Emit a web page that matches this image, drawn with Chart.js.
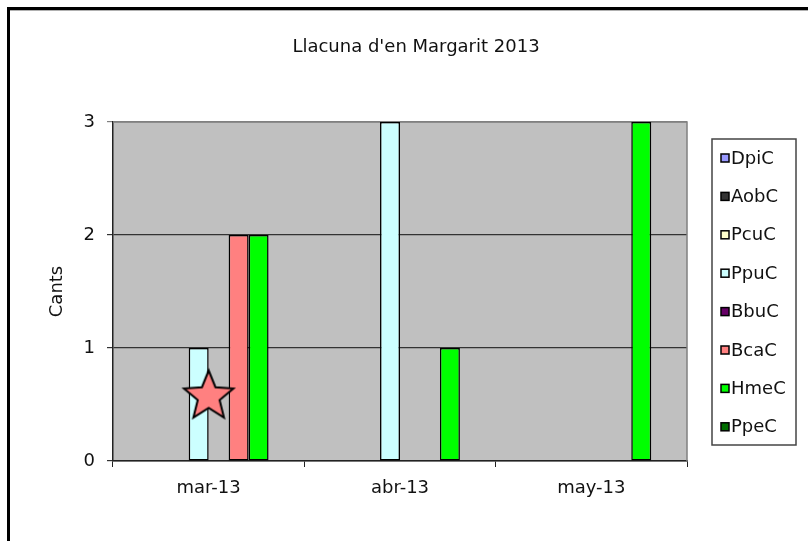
<!DOCTYPE html>
<html lang="ca">
<head>
  <meta charset="UTF-8">
  <title>Llacuna d'en Margarit 2013</title>
  <script src="https://cdn.jsdelivr.net/npm/chart.js"></script>
  <style>
    * { box-sizing: border-box; }
    body { margin: 0; padding: 0; background: #fff; }
    canvas { display: block; }
  </style>
</head>
<body>
<canvas id="chart" width="808" height="541"></canvas>

<script>
  // data
  const chartTitle = "Llacuna d'en Margarit 2013";
  const categories = ['mar-13', 'abr-13', 'may-13'];
  const seriesNames = ['DpiC', 'AobC', 'PcuC', 'PpuC', 'BbuC', 'BcaC', 'HmeC', 'PpeC'];
  const seriesColors = ['#9999FF', '#333333', '#FFFFCC', '#CCFFFF', '#660066', '#FF8080', '#00FF00', '#006E00'];
  const DpiC = [null, null, null];
  const AobC = [null, null, null];
  const PcuC = [null, null, null];
  const PpuC = [1, 3, null];
  const BbuC = [null, null, null];
  const BcaC = [2, null, null];
  const HmeC = [2, 1, 3];
  const PpeC = [null, null, null];
  const starMark = [0.58, null, null];
  const yTicks = [0, 1, 2, 3];

  const seriesValues = [DpiC, AobC, PcuC, PpuC, BbuC, BcaC, HmeC, PpeC];
  const FONT = "'DejaVu Sans', sans-serif";
  Chart.defaults.font.family = FONT;
  Chart.defaults.color = '#111';

  // star marker image
  function makeStar() {
    const c = document.createElement('canvas');
    c.width = 60; c.height = 60;
    const g = c.getContext('2d');
    const R = 26, r = 11.5;
    g.beginPath();
    for (let i = 0; i < 10; i++) {
      const rad = i % 2 === 0 ? R : r;
      const a = -Math.PI / 2 + i * Math.PI / 5;
      const px = 30 + rad * Math.cos(a), py = 31 + rad * Math.sin(a);
      if (i === 0) g.moveTo(px, py); else g.lineTo(px, py);
    }
    g.closePath();
    g.fillStyle = '#FF8080';
    g.fill();
    g.lineWidth = 2;
    g.strokeStyle = '#000';
    g.stroke();
    return c;
  }

  const datasets = seriesNames.map((name, i) => ({
    type: 'bar',
    label: name,
    data: seriesValues[i],
    backgroundColor: seriesColors[i],
    borderColor: '#000',
    borderWidth: 1.5,
    borderSkipped: false,
    categoryPercentage: 0.835,
    barPercentage: 1,
    order: 2
  }));

  datasets.push({
    type: 'line',
    label: 'star',
    data: starMark,
    showLine: false,
    pointStyle: makeStar(),
    pointRadius: 26,
    order: 0
  });

  const framePlugin = {
    id: 'frame',
    beforeDraw(chart) {
      const { ctx, chartArea: a } = chart;
      ctx.save();
      ctx.fillStyle = '#fff';
      ctx.fillRect(0, 0, chart.width, chart.height);
      // outer frame (left and top edges)
      ctx.fillStyle = '#000';
      ctx.fillRect(7, 7, 3, chart.height);
      ctx.fillRect(7, 7, chart.width, 3);
      ctx.fillStyle = '#b0b0b0';
      ctx.fillRect(10, 10, chart.width, 1);
      // plot background
      ctx.fillStyle = '#C0C0C0';
      ctx.fillRect(a.left, a.top, a.right - a.left, a.bottom - a.top);
      // title
      ctx.fillStyle = '#111';
      ctx.font = '18px ' + FONT;
      ctx.textAlign = 'center';
      ctx.textBaseline = 'middle';
      ctx.fillText(chartTitle, 416, 47);
      ctx.restore();
    },
    beforeDatasetsDraw(chart) {
      const { ctx, chartArea: a } = chart;
      ctx.save();
      ctx.strokeStyle = '#808080';
      ctx.lineWidth = 1.5;
      ctx.beginPath();
      ctx.moveTo(a.left, a.top);
      ctx.lineTo(a.right, a.top);
      ctx.lineTo(a.right, a.bottom);
      ctx.stroke();
      ctx.restore();
    }
  };

  const legendPlugin = {
    id: 'boxLegend',
    afterDraw(chart) {
      const { ctx } = chart;
      ctx.save();
      ctx.strokeStyle = '#444';
      ctx.lineWidth = 1.5;
      ctx.strokeRect(712, 139, 84, 306);
      ctx.font = '18px ' + FONT;
      ctx.textBaseline = 'middle';
      ctx.textAlign = 'left';
      seriesNames.forEach((name, i) => {
        const y = 158 + i * 38.4;
        ctx.fillStyle = seriesColors[i];
        ctx.fillRect(721, y - 4, 8, 8);
        ctx.strokeStyle = '#000';
        ctx.lineWidth = 1.5;
        ctx.strokeRect(721, y - 4, 8, 8);
        ctx.fillStyle = '#111';
        ctx.fillText(name, 731, y + 1);
      });
      ctx.restore();
    }
  };

  new Chart(document.getElementById('chart').getContext('2d'), {
    type: 'bar',
    data: { labels: categories, datasets: datasets },
    options: {
      responsive: false,
      animation: false,
      layout: { padding: { left: 0, right: 121, top: 122, bottom: 0 } },
      plugins: {
        legend: { display: false },
        tooltip: { enabled: false },
        title: { display: false }
      },
      scales: {
        x: {
          offset: true,
          grid: {
            offset: true,
            drawOnChartArea: false,
            drawTicks: true,
            tickLength: 6,
            color: '#222'
          },
          border: { display: true, color: '#222', width: 1.5 },
          ticks: { font: { size: 18 }, padding: 11, color: '#111' },
          afterFit(scale) { scale.height = 80; }
        },
        y: {
          min: 0,
          max: 3,
          afterBuildTicks(scale) { scale.ticks = yTicks.map(v => ({ value: v })); },
          grid: {
            color: ctx => ctx.tick && ctx.tick.value === 3 ? '#808080' : '#333',
            lineWidth: 1.2,
            tickLength: 6,
            drawTicks: true
          },
          border: { display: true, color: '#222', width: 1.5 },
          ticks: { font: { size: 18 }, padding: 12, color: '#111' },
          title: {
            display: true,
            text: 'Cants',
            color: '#111',
            font: { size: 18 },
            padding: { top: 47, bottom: 0 }
          },
          afterFit(scale) { scale.width = 113; }
        }
      }
    },
    plugins: [framePlugin, legendPlugin]
  });
</script>
</body>
</html>
